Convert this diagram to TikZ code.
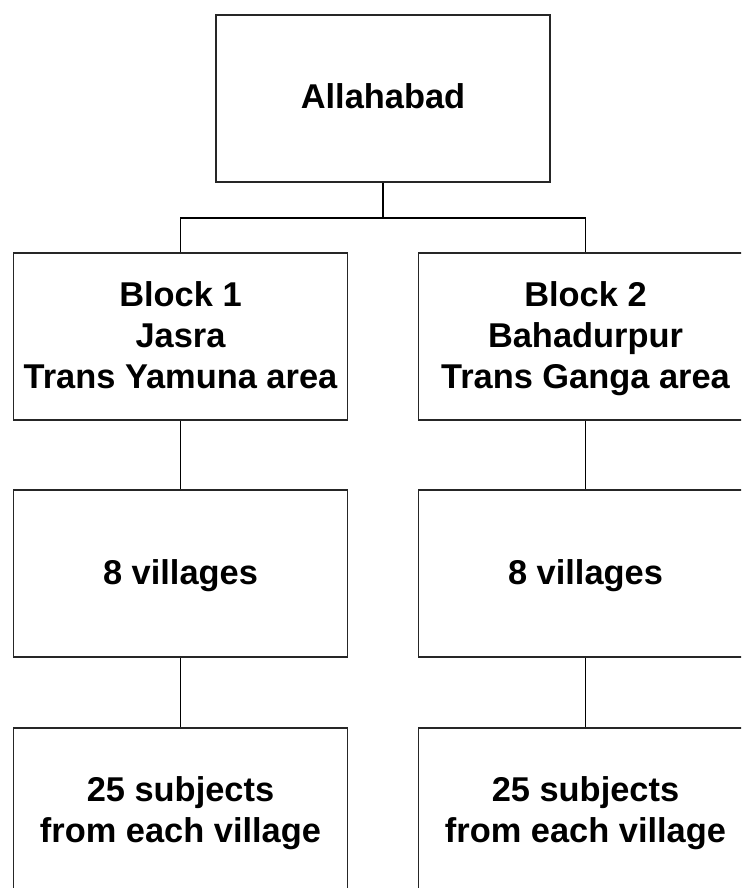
\documentclass[tikz,border=0pt]{standalone}
\usepackage{fontspec}
\setmainfont{Liberation Sans}
\newcommand\mystrut{\rule[-9pt]{0pt}{39pt}}
\begin{document}
\begin{tikzpicture}[x=1pt,y=-1pt,
  box/.style={draw=black!85, line width=1.3pt, rectangle, minimum width=334pt, minimum height=167pt,
    align=center, inner sep=0pt, font=\fontsize{34.4}{41}\selectfont\bfseries},
  link/.style={draw=black, line width=1.3pt}]
\useasboundingbox (0,0) rectangle (741,888);
\clip (0,0) rectangle (741,888);
\fill[white] (0,0) rectangle (741,888);
\node[box] (top) at (383,98.5) {\mystrut Allahabad};
\node[box] (b1) at (180.5,336.5) {\mystrut Block 1\\\mystrut Jasra\\\mystrut Trans Yamuna area};
\node[box] (b2) at (585.5,336.5) {\mystrut Block 2\\\mystrut Bahadurpur\\\mystrut Trans Ganga area};
\node[box] (v1) at (180.5,573.5) {\mystrut 8 villages};
\node[box] (v2) at (585.5,573.5) {\mystrut 8 villages};
\node[box] (s1) at (180.5,811.5) {\mystrut 25 subjects\\\mystrut from each village};
\node[box] (s2) at (585.5,811.5) {\mystrut 25 subjects\\\mystrut from each village};
\coordinate (j) at (383,218);
\draw[link] (top.south) -- (j);
\draw[link] (b1.north) -- (b1.north |- j) -- (b2.north |- j) -- (b2.north);
\draw[link] (b1.south) -- (v1.north);
\draw[link] (b2.south) -- (v2.north);
\draw[link] (v1.south) -- (s1.north);
\draw[link] (v2.south) -- (s2.north);
\end{tikzpicture}
\end{document}
